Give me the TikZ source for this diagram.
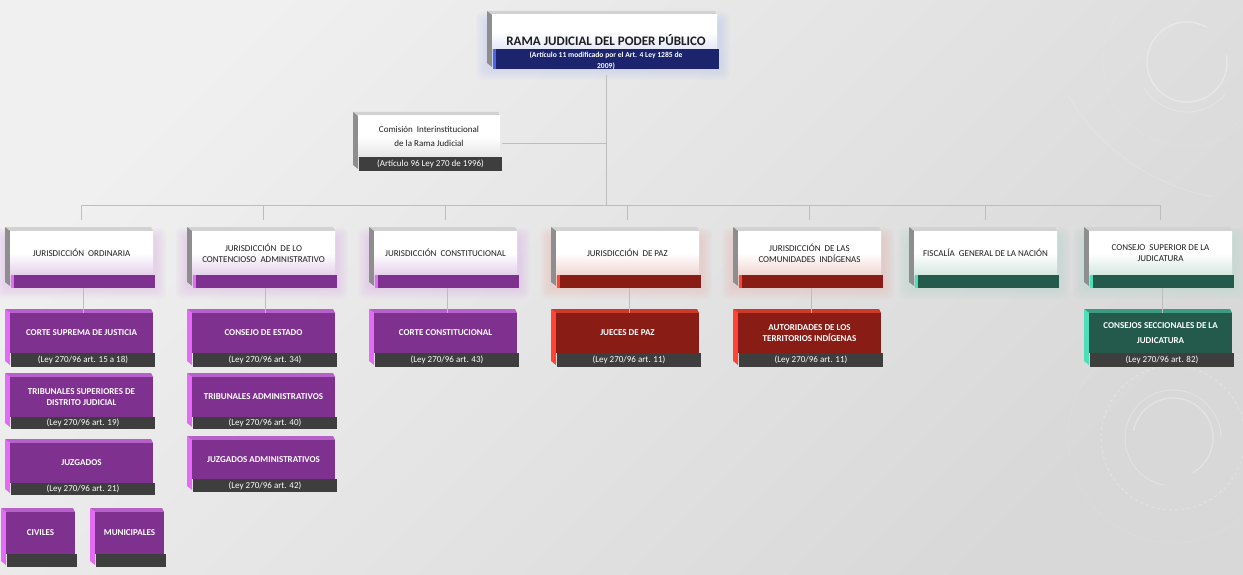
\documentclass[tikz,border=0pt]{standalone}
\usepackage{fontspec}
\setmainfont{Carlito}
\usetikzlibrary{calc}
\definecolor{bgA}{HTML}{F0F0F0}
\definecolor{bgB}{HTML}{D8D8D8}
\definecolor{connc}{HTML}{BDBDBD}
\definecolor{txt}{HTML}{1E1E1E}
\definecolor{bevT}{HTML}{D2D2D2}
\definecolor{bevL}{HTML}{8E8E8E}
\definecolor{dband}{HTML}{3E3E3E}
\definecolor{purp}{HTML}{7F3190}
\definecolor{purpL}{HTML}{E46CF4}
\definecolor{purpT}{HTML}{B860CA}
\definecolor{purpF}{HTML}{E6D0EC}
\definecolor{purpG}{HTML}{D8A0E8}
\definecolor{rojo}{HTML}{891D16}
\definecolor{rojoL}{HTML}{FF4433}
\definecolor{rojoT}{HTML}{CC3A2C}
\definecolor{rojoF}{HTML}{F0D6D2}
\definecolor{rojoG}{HTML}{EBA8A0}
\definecolor{verde}{HTML}{235A4B}
\definecolor{verdeL}{HTML}{4DE0B8}
\definecolor{verdeT}{HTML}{3E9A80}
\definecolor{verdeF}{HTML}{D4E8E0}
\definecolor{verdeG}{HTML}{A8D8C8}
\definecolor{navy}{HTML}{1C246E}
\definecolor{navyL}{HTML}{4A66EE}
\definecolor{navyF}{HTML}{E4E8F6}
\definecolor{navyG}{HTML}{A8B8F0}
\newcommand\fntH{\fontsize{9}{11}\selectfont}
\newcommand\fntC{\bfseries\fontsize{9}{11}\selectfont}
\newcommand\fntB{\fontsize{9}{10}\selectfont}
\newcommand\fntT{\bfseries\fontsize{13}{15}\selectfont}
\newcommand\fntS{\bfseries\fontsize{7.6}{10.5}\selectfont}
% name, L, T, R, B, band height, scheme, text, band text
\newcommand\blk[9]{%
  \fill[#7top] (#2,#3) -- (#4-4,#3) -- (#4-2,#3+4) -- (#2+5,#3+4) -- cycle;
  \fill[#7left] (#2,#3) -- (#2+5,#3+4) -- (#2+5,#5-2) -- (#2,#5-6) -- cycle;
  \node[#7front, anchor=north west, minimum width={#4-#2-7}, minimum height={#5-#3-4-#6}] (#1) at (#2+5,#3+4) {#8};
  \node[#7band, anchor=south east, minimum width={#4-#2-6}, minimum height={#6}] (#1b) at (#4,#5) {#9};
  \fill[#7bl] (#1b.south west) rectangle ([xshift=3pt]#1b.north west);
}
\newcommand\glowbox[5]{%
  \foreach \g in {1,...,6}{\fill[#5,opacity=0.06,rounded corners=6pt] (#1-\g*1.8,#2-\g*1.5+10) rectangle (#3+\g*1.8,#4+\g*1.8);}%
}
\begin{document}
\begin{tikzpicture}[x=1pt,y=-1pt,
  conn/.style={draw=connc, line width=0.9pt},
  deco/.style={draw=white, opacity=0.3, line width=1pt},
  frontbase/.style={inner sep=0pt, outer sep=0pt, align=center},
  bandbase/.style={inner sep=0pt, outer sep=0pt, text=white, font=\fntB, fill=dband},
  hdrtxt/.style={frontbase, text=txt, font=\fntH},
  chtxt/.style={frontbase, text=white, font=\fntC},
  hptop/.style={fill=bevT}, hpleft/.style={fill=bevL},
  hpfront/.style={hdrtxt, top color=white, bottom color=purpF, middle color=white},
  hpband/.style={bandbase, fill=purp}, hpbl/.style={fill=purpL},
  hrtop/.style={fill=bevT}, hrleft/.style={fill=bevL},
  hrfront/.style={hdrtxt, top color=white, bottom color=rojoF, middle color=white},
  hrband/.style={bandbase, fill=rojo}, hrbl/.style={fill=rojoL},
  hgtop/.style={fill=bevT}, hgleft/.style={fill=bevL},
  hgfront/.style={hdrtxt, top color=white, bottom color=verdeF, middle color=white},
  hgband/.style={bandbase, fill=verde}, hgbl/.style={fill=verdeL},
  cmtop/.style={fill=bevT}, cmleft/.style={fill=bevL},
  cmfront/.style={hdrtxt, top color=white, bottom color=white!90!black, middle color=white},
  cmband/.style={bandbase}, cmbl/.style={fill=dband},
  tptop/.style={fill=bevT}, tpleft/.style={fill=bevL},
  tpfront/.style={hdrtxt, top color=white, bottom color=navyF, middle color=white},
  tpband/.style={bandbase, fill=navy}, tpbl/.style={fill=navyL},
  cptop/.style={fill=purpT}, cpleft/.style={fill=purpL},
  cpfront/.style={chtxt, fill=purp}, cpband/.style={bandbase}, cpbl/.style={fill=dband},
  crtop/.style={fill=rojoT}, crleft/.style={fill=rojoL},
  crfront/.style={chtxt, fill=rojo}, crband/.style={bandbase}, crbl/.style={fill=dband},
  cgtop/.style={fill=verdeT}, cgleft/.style={fill=verdeL},
  cgfront/.style={chtxt, fill=verde}, cgband/.style={bandbase}, cgbl/.style={fill=dband},
]
\useasboundingbox (0,0) rectangle (1243,575);
\shade[top color=bgA, bottom color=bgB, shading angle=45] (0,0) rectangle (1243,575);
% faint background decoration
\draw[deco, line width=1.4pt] ([shift={(-10:40)}]1187,62) arc[start angle=-10, end angle=300, radius=40];
\draw[deco, opacity=0.2] ([shift={(150:50)}]1187,62) arc[start angle=150, end angle=40, radius=50];
\draw[deco, opacity=0.18, dotted] (1187,62) circle[radius=84];
\draw[deco, opacity=0.15] ([shift={(100:210)}]1250,-10) arc[start angle=100, end angle=150, radius=210];
\draw[deco, opacity=0.3, line width=1.3pt] ([shift={(60:40)}]1173,438) arc[start angle=60, end angle=-170, radius=40];
\draw[deco, opacity=0.25] ([shift={(0:48)}]1173,438) arc[start angle=0, end angle=-260, radius=48];
\draw[deco, opacity=0.25, dashed] (1173,438) circle[radius=72];
\draw[deco, opacity=0.18, dotted] (1173,438) circle[radius=105];
% glows
\glowbox{487}{11}{719}{69}{navyG}
\glowbox{5}{227}{155}{288}{purpG}
\glowbox{187}{227}{337}{288}{purpG}
\glowbox{369}{227}{519}{288}{purpG}
\glowbox{551}{227}{701}{288}{rojoG}
\glowbox{733}{227}{883}{288}{rojoG}
\glowbox{909}{227}{1059}{288}{verdeG}
\glowbox{1084}{227}{1234}{288}{verdeG}
% top box
\blk{top}{487}{11}{719}{69}{20}{tp}{}{}
\node[font=\fntT, text=txt, inner sep=0pt] (title) at (606,40) {RAMA JUDICIAL DEL PODER PÚBLICO};
\node[font=\fntS, text=white, align=center, inner sep=0pt] (sub) at (606,61) {(Artículo 11 modificado por el Art. 4 Ley 1285 de\\2009)};
% commission
\blk{cm}{353}{112}{502}{171}{14}{cm}{Comisión\ \ Interinstitucional\\[3pt]de la Rama Judicial}{(Artículo 96 Ley 270 de 1996)}
% headers
\blk{h1}{5}{227}{155}{288}{13}{hp}{JURISDICCIÓN\ \ ORDINARIA}{}
\blk{h2}{187}{227}{337}{288}{13}{hp}{JURISDICCIÓN\ \ DE LO\\CONTENCIOSO\ \ ADMINISTRATIVO}{}
\blk{h3}{369}{227}{519}{288}{13}{hp}{JURISDICCIÓN\ \ CONSTITUCIONAL}{}
\blk{h4}{551}{227}{701}{288}{13}{hr}{JURISDICCIÓN\ \ DE PAZ}{}
\blk{h5}{733}{227}{883}{288}{13}{hr}{JURISDICCIÓN\ \ DE LAS\\COMUNIDADES\ \ INDÍGENAS}{}
\blk{h6}{909}{227}{1059}{288}{13}{hg}{FISCALÍA\ \ GENERAL DE LA NACIÓN}{}
\blk{h7}{1084}{227}{1234}{288}{13}{hg}{CONSEJO\ \ SUPERIOR DE LA\\JUDICATURA}{}
% children
\blk{c1}{5}{309}{155}{367}{14}{cp}{CORTE SUPREMA DE JUSTICIA}{(Ley 270/96 art. 15 a 18)}
\blk{c1t}{5}{373}{155}{429}{12}{cp}{TRIBUNALES SUPERIORES DE\\DISTRITO JUDICIAL}{(Ley 270/96 art. 19)}
\blk{c1j}{5}{439}{155}{495}{12}{cp}{JUZGADOS}{(Ley 270/96 art. 21)}
\blk{civ}{1}{508}{77}{567}{13}{cp}{CIVILES}{}
\blk{mun}{90}{508}{166}{567}{13}{cp}{MUNICIPALES}{}
\blk{c2}{187}{309}{337}{367}{14}{cp}{CONSEJO DE ESTADO}{(Ley 270/96 art. 34)}
\blk{c2t}{187}{373}{337}{429}{12}{cp}{TRIBUNALES ADMINISTRATIVOS}{(Ley 270/96 art. 40)}
\blk{c2j}{187}{436}{337}{492}{13}{cp}{JUZGADOS ADMINISTRATIVOS}{(Ley 270/96 art. 42)}
\blk{c3}{369}{309}{519}{367}{14}{cp}{CORTE CONSTITUCIONAL}{(Ley 270/96 art. 43)}
\blk{c4}{551}{309}{701}{367}{14}{cr}{JUECES DE PAZ}{(Ley 270/96 art. 11)}
\blk{c5}{733}{309}{883}{367}{14}{cr}{AUTORIDADES DE LOS\\TERRITORIOS INDÍGENAS}{(Ley 270/96 art. 11)}
\blk{c7}{1084}{309}{1234}{367}{14}{cg}{CONSEJOS SECCIONALES DE LA\\[4pt]JUDICATURA}{(Ley 270/96 art. 82)}
% connectors
\coordinate (bus) at (606,205);
\coordinate (cmj) at (606,143);
\draw[conn] ([yshift=-6pt]topb.south) -- (topb.south |- bus);
\draw[conn] (cmj -| cmb.east) -- (cmj);
\draw[conn] (h1.north |- bus) -- (h7.north |- bus);
\foreach \h in {h1,h2,h3,h4,h5,h6,h7}{\draw[conn] (\h.north |- bus) -- ([yshift=11pt]\h.north);}
\draw[conn] (h1b.south) -- (h1b.south |- c1.north);
\draw[conn] (h2b.south) -- (h2b.south |- c2.north);
\draw[conn] (h3b.south) -- (h3b.south |- c3.north);
\draw[conn] (h4b.south) -- (h4b.south |- c4.north);
\draw[conn] (h5b.south) -- (h5b.south |- c5.north);
\draw[conn] (h7b.south) -- (h7b.south |- c7.north);
\end{tikzpicture}
\end{document}
